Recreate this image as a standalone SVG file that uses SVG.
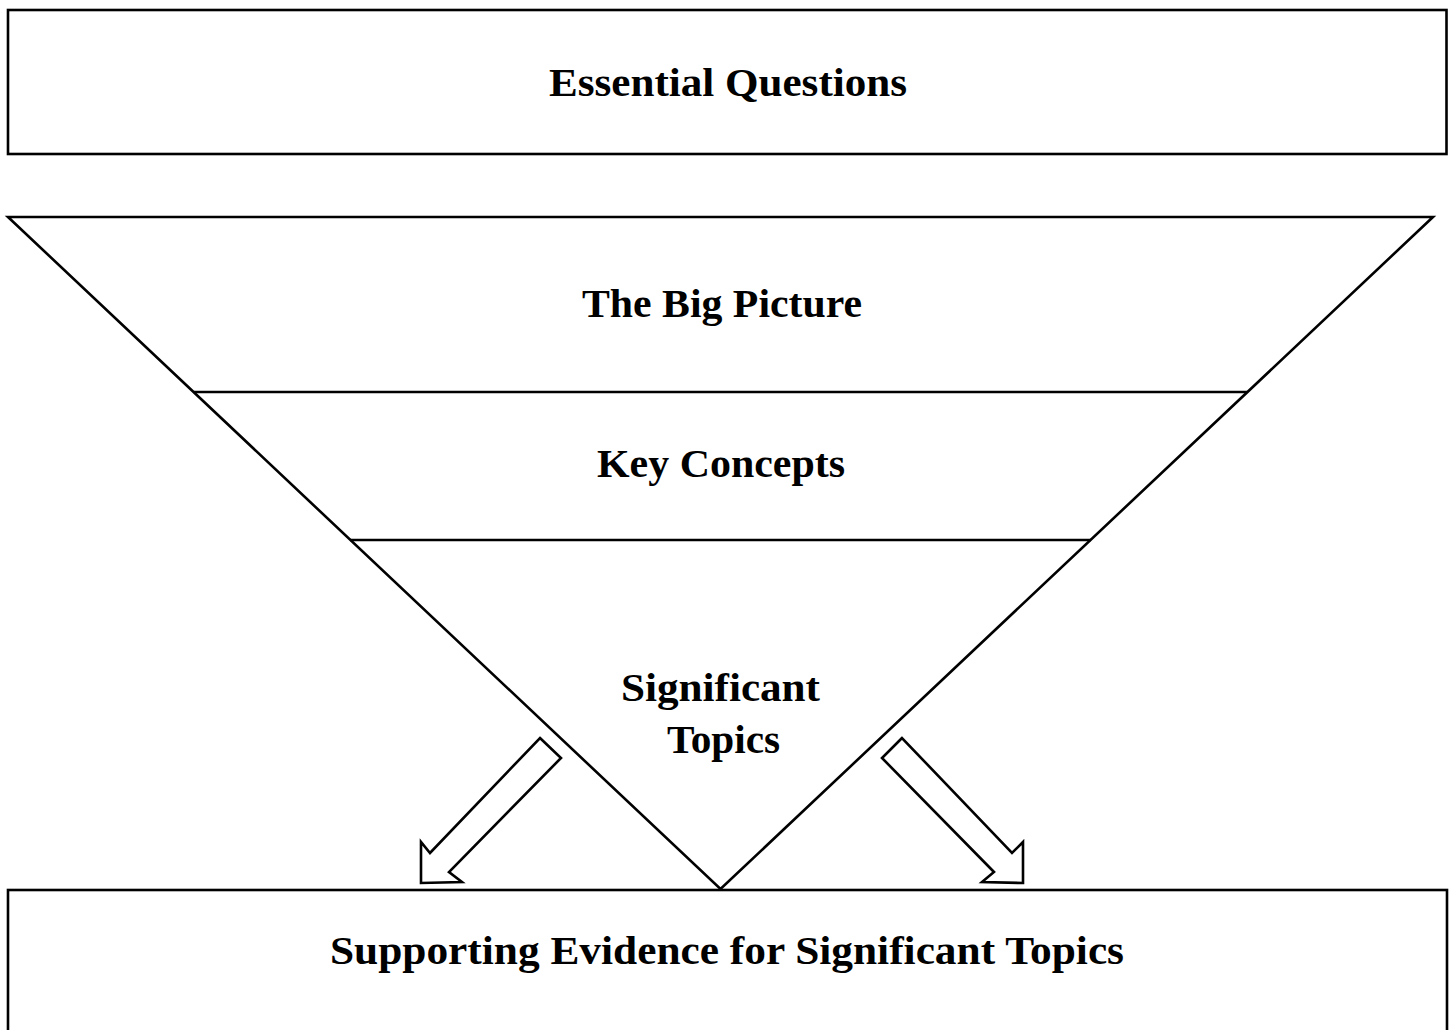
<svg xmlns="http://www.w3.org/2000/svg" width="1453" height="1030" viewBox="0 0 1453 1030">
  <style>
    .shape { fill: #ffffff; stroke: #000000; stroke-width: 2.6; stroke-linejoin: miter; }
    .rule { fill: none; stroke: #000000; stroke-width: 2.6; }
    .label { font-family: "Liberation Serif", "DejaVu Serif", serif; font-weight: bold; font-size: 40px; fill: #000000; text-anchor: middle; }
  </style>
  <rect width="1453" height="1030" fill="#ffffff"/>

  <!-- header box -->
  <g id="essential-questions">
    <rect class="shape" x="8" y="10" width="1438.5" height="144"/>
    <text class="label" x="728" y="96" textLength="358" lengthAdjust="spacingAndGlyphs">Essential Questions</text>
  </g>

  <!-- funnel: inverted triangle split into three bands -->
  <g id="funnel">
    <polygon class="shape" points="8,217 1433,217 720.5,889"/>
  </g>
  <g id="big-picture">
    <text class="label" x="722" y="317" textLength="280" lengthAdjust="spacingAndGlyphs">The Big Picture</text>
  </g>
  <g id="key-concepts">
    <line class="rule" x1="194" y1="392" x2="1247" y2="392"/>
    <text class="label" x="721" y="477" textLength="248" lengthAdjust="spacingAndGlyphs">Key Concepts</text>
  </g>
  <g id="significant-topics">
    <line class="rule" x1="350" y1="540" x2="1091" y2="540"/>
    <text class="label" x="720.5" y="701" textLength="199" lengthAdjust="spacingAndGlyphs">Significant</text>
    <text class="label" x="723.5" y="753" textLength="113" lengthAdjust="spacingAndGlyphs">Topics</text>
  </g>

  <!-- footer box -->
  <g id="supporting-evidence">
    <rect class="shape" x="8" y="890" width="1439" height="160"/>
    <text class="label" x="727" y="964" textLength="794" lengthAdjust="spacingAndGlyphs">Supporting Evidence for Significant Topics</text>
  </g>

  <!-- block arrows from the funnel down to the footer -->
  <g id="connectors">
    <polygon class="shape" points="540,738 561,758 449,872 462,882 421,883 421,842 430,853"/>
    <polygon class="shape" points="902,738 882,758 994,872 982,882 1023,883 1023,842 1012,853"/>
  </g>
</svg>
